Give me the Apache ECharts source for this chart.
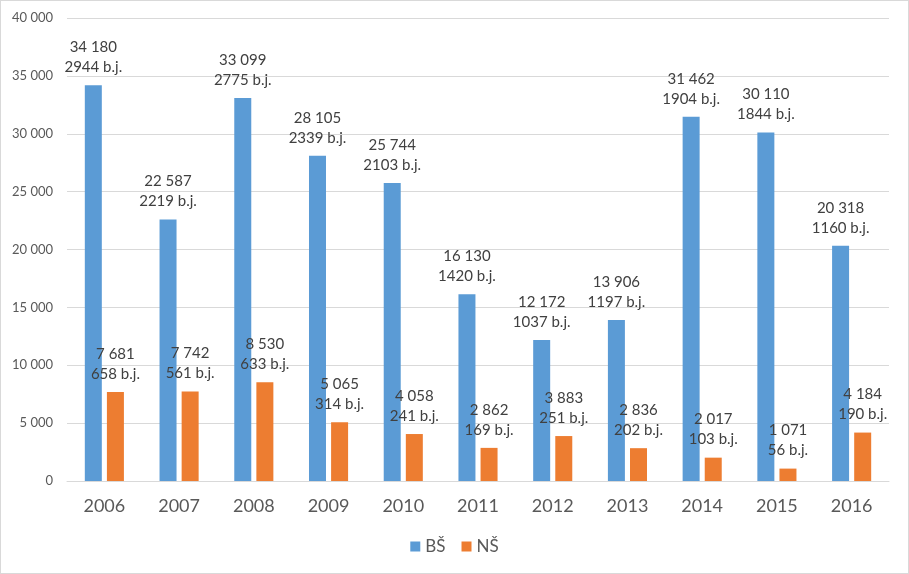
<!DOCTYPE html>
<html><head><meta charset="utf-8">
<script src="https://cdn.jsdelivr.net/npm/echarts@6/dist/echarts.min.js"></script>
<style>html,body{margin:0;padding:0;background:#fff}#c{width:907px;height:572px;border:1px solid #d9d9d9}</style>
</head><body><div id="c"></div>
<script>
const categories = ['2006','2007','2008','2009','2010','2011','2012','2013','2014','2015','2016'];
const bsValues = [34180,22587,33099,28105,25744,16130,12172,13906,31462,30110,20318];
const bsUnits = [2944,2219,2775,2339,2103,1420,1037,1197,1904,1844,1160];
const nsValues = [7681,7742,8530,5065,4058,2862,3883,2836,2017,1071,4184];
const nsUnits = [658,561,633,314,241,169,251,202,103,56,190];
const seriesNames = ['BŠ','NŠ'];

const fmt = v => String(v).replace(/\B(?=(\d{3})+(?!\d))/g, ' ');
const chart = echarts.init(document.getElementById('c'));
const font = 'Lato, "Open Sans", sans-serif';
function mkLabel(units){
  return {show:true, position:'top', distance:8, color:'#404040', fontSize:15, fontFamily:font, lineHeight:20,
    formatter: p => fmt(p.value) + '\n' + units[p.dataIndex] + ' b.j.'};
}
chart.setOption({
  animation:false,
  textStyle:{fontFamily:font},
  grid:{left:66, right:19, top:17, bottom:92},
  legend:{bottom:13, left:'center', itemWidth:10, itemHeight:10, icon:'rect', itemGap:16,
    textStyle:{fontSize:17, color:'#595959', fontFamily:font}},
  xAxis:{type:'category', data:categories,
    axisLine:{lineStyle:{color:'#d9d9d9'}}, axisTick:{show:false},
    axisLabel:{fontSize:18, color:'#595959', margin:16, fontFamily:font}},
  yAxis:{type:'value', min:0, max:40000, interval:5000,
    axisLine:{show:false}, axisTick:{show:false},
    splitLine:{lineStyle:{color:'#d9d9d9'}},
    axisLabel:{fontSize:13, color:'#595959', margin:14, fontFamily:font, formatter:v=>fmt(v)}},
  series:[
    {name:seriesNames[0], type:'bar', data:bsValues, barWidth:17, barGap:'30%', itemStyle:{color:'#5b9bd5'}, label:mkLabel(bsUnits)},
    {name:seriesNames[1], type:'bar', data:nsValues, barWidth:17, itemStyle:{color:'#ed7d31'}, label:mkLabel(nsUnits)}
  ]
});
</script></body></html>
